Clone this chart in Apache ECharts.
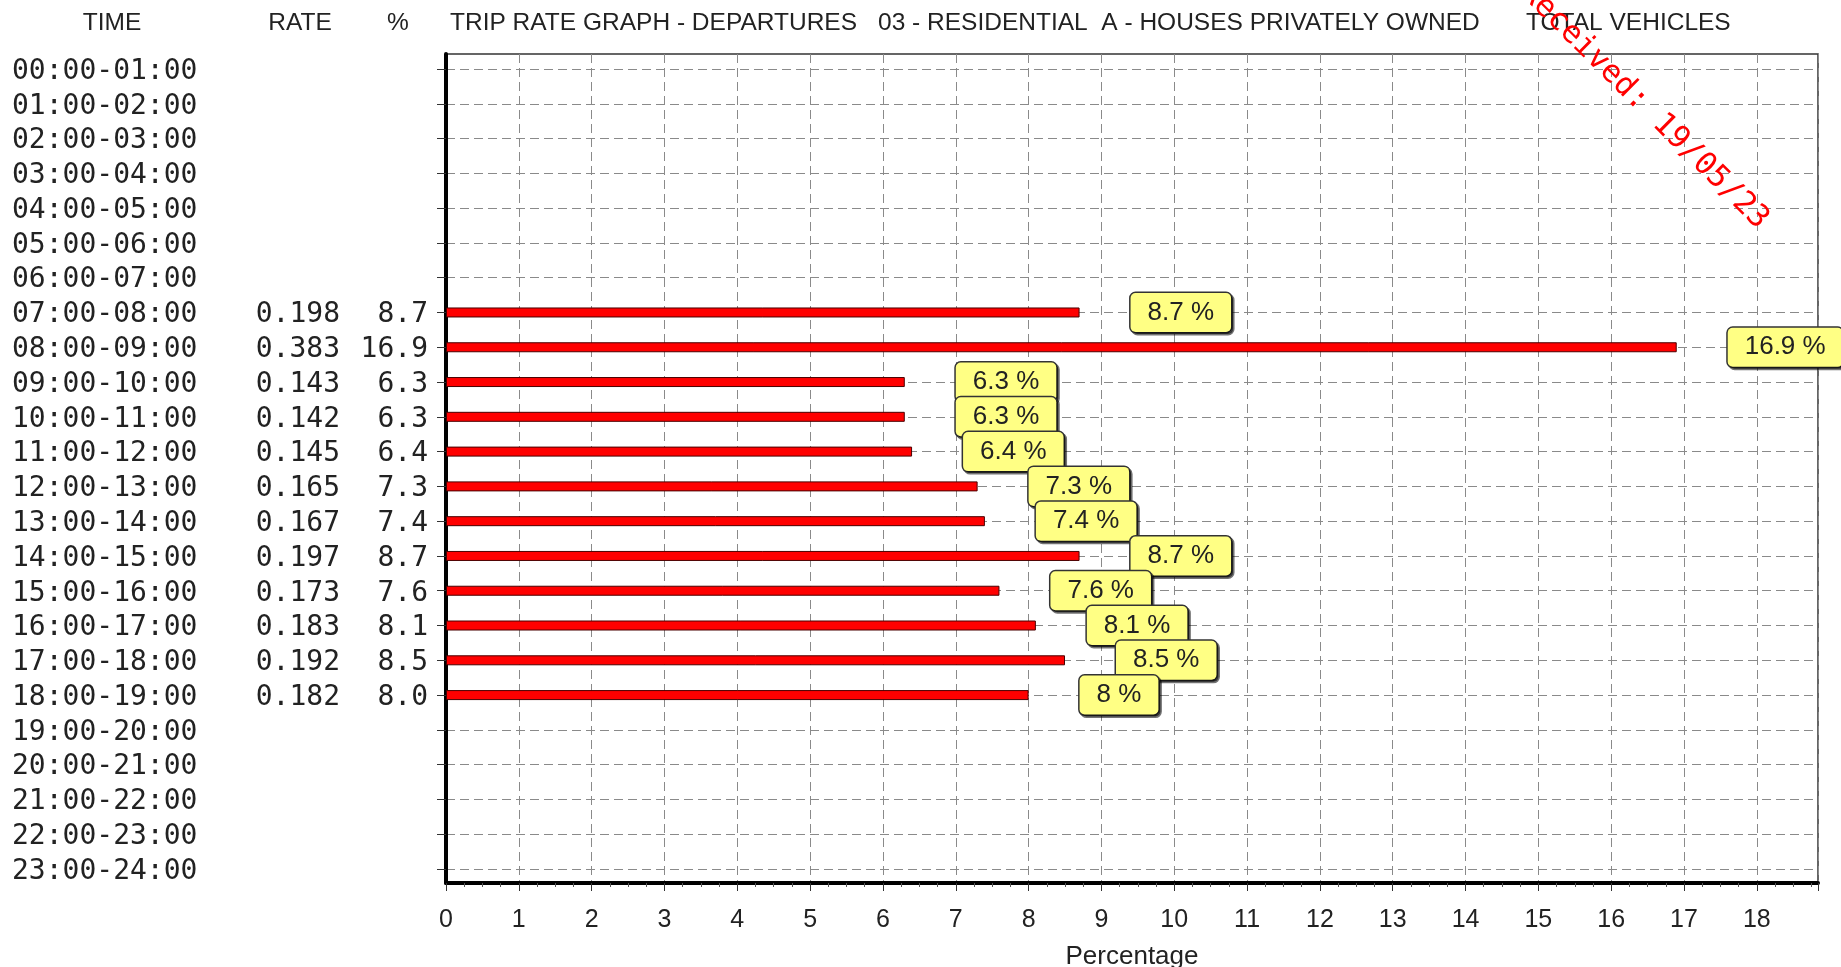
<!DOCTYPE html>
<html><head><meta charset="utf-8">
<script src="https://cdn.jsdelivr.net/npm/echarts@6/dist/echarts.min.js"></script>
<style>html,body{margin:0;padding:0;background:#fff;}#c{width:1841px;height:967px;}</style>
</head><body><div id="c"></div>
<script>
// ---- data ----
const times = ['00:00-01:00','01:00-02:00','02:00-03:00','03:00-04:00','04:00-05:00','05:00-06:00',
  '06:00-07:00','07:00-08:00','08:00-09:00','09:00-10:00','10:00-11:00','11:00-12:00',
  '12:00-13:00','13:00-14:00','14:00-15:00','15:00-16:00','16:00-17:00','17:00-18:00',
  '18:00-19:00','19:00-20:00','20:00-21:00','21:00-22:00','22:00-23:00','23:00-24:00'];
const rates = [null,null,null,null,null,null,null,0.198,0.383,0.143,0.142,0.145,0.165,0.167,0.197,0.173,0.183,0.192,0.182,null,null,null,null,null];
const pcts  = [null,null,null,null,null,null,null,8.7,16.9,6.3,6.3,6.4,7.3,7.4,8.7,7.6,8.1,8.5,8.0,null,null,null,null,null];
const colHeaders = ['TIME','RATE','%'];
const titleParts = ['TRIP RATE GRAPH - DEPARTURES','03 - RESIDENTIAL  A - HOUSES PRIVATELY OWNED','TOTAL VEHICLES'];
const xAxisName = 'Percentage';
const watermark = 'Received: 19/05/23';
const xMin = 0, xMax = 18.84;

// ---- chart ----
const MONO = "'DejaVu Sans Mono', monospace";
const SANS = "'Liberation Sans', Arial, sans-serif";
const chart = echarts.init(document.getElementById('c'), null, {renderer: 'canvas'});
const gridStroke = {color: '#8a8a8a', type: [9, 5], width: 1};
const HF = '24.5px ' + SANS;

chart.setOption({
  backgroundColor: '#ffffff',
  animation: false,
  grid: [
    {left: 446, right: 23, top: 69, height: 800, outerBoundsMode: 'none', containLabel: false},
    {left: 446, right: 23, top: 54, bottom: 84, show: true, borderColor: '#333', borderWidth: 1.5,
     backgroundColor: 'transparent', outerBoundsMode: 'none', containLabel: false}
  ],
  xAxis: [
    {gridIndex: 0, type: 'value', min: xMin, max: xMax, show: false},
    {gridIndex: 1, type: 'value', min: xMin, max: xMax, interval: 1,
     axisLine: {show: true, onZero: false, lineStyle: {color: '#000', width: 4}},
     axisTick: {show: true, length: 8, lineStyle: {color: '#333', width: 1}},
     minorTick: {show: true, splitNumber: 4, length: 4, lineStyle: {color: '#555', width: 1}},
     splitLine: {show: true, lineStyle: gridStroke},
     axisLabel: {margin: 25, fontFamily: SANS, fontSize: 25, color: '#222', showMaxLabel: false,
       formatter: v => (Math.abs(v - Math.round(v)) < 1e-9 ? String(Math.round(v)) : '')},
     name: xAxisName, nameLocation: 'middle', nameGap: 61,
     nameTextStyle: {fontFamily: SANS, fontSize: 26, color: '#222'}}
  ],
  yAxis: [
    {gridIndex: 0, type: 'category', data: times, inverse: true, boundaryGap: false,
     axisLine: {show: false},
     axisTick: {show: true, length: 9, interval: 0, lineStyle: {color: '#333', width: 1}},
     splitLine: {show: true, interval: 0, lineStyle: gridStroke},
     axisLabel: {interval: 0, margin: 18, color: '#222', fontFamily: MONO, fontSize: 28,
       padding: [5, 0, 0, 0],
       formatter: (val, idx) => {
         const r = rates[idx] == null ? ' ' : rates[idx].toFixed(3);
         const p = pcts[idx] == null ? ' ' : pcts[idx].toFixed(1);
         return '{t|' + val + '}{r|' + r + '}{p|' + p + '}';
       },
       rich: {
         t: {width: 190, align: 'left', fontFamily: MONO, fontSize: 28, color: '#222'},
         r: {width: 138, align: 'right', fontFamily: MONO, fontSize: 28, color: '#222'},
         p: {width: 88, align: 'right', fontFamily: MONO, fontSize: 28, color: '#222'}
       }}},
    {gridIndex: 1, type: 'value', min: 0, max: 1,
     axisLine: {show: true, onZero: false, lineStyle: {color: '#000', width: 4}},
     axisTick: {show: false}, axisLabel: {show: false}, splitLine: {show: false}}
  ],
  series: [{
    type: 'bar', xAxisIndex: 0, yAxisIndex: 0, data: pcts, barWidth: 10, z: 5,
    itemStyle: {color: '#ff0000', borderColor: '#4a0000', borderWidth: 1},
    label: {show: true, position: 'right', distance: 51,
      formatter: p => p.value + ' %',
      fontFamily: SANS, fontSize: 26, color: '#222',
      backgroundColor: '#ffff84', borderColor: '#333', borderWidth: 1.5, borderRadius: 5,
      padding: [7, 17, 6, 17],
      shadowColor: 'rgba(0,0,0,0.55)', shadowOffsetX: 2, shadowOffsetY: 2, shadowBlur: 0}
  }],
  graphic: [
    {type: 'text', x: 112, y: 23, style: {text: colHeaders[0], font: HF, fill: '#222', textAlign: 'center', textVerticalAlign: 'middle'}},
    {type: 'text', x: 300, y: 23, style: {text: colHeaders[1], font: HF, fill: '#222', textAlign: 'center', textVerticalAlign: 'middle'}},
    {type: 'text', x: 398, y: 23, style: {text: colHeaders[2], font: HF, fill: '#222', textAlign: 'center', textVerticalAlign: 'middle'}},
    {type: 'text', x: 450, y: 23, style: {text: titleParts[0], font: HF, fill: '#222', textAlign: 'left', textVerticalAlign: 'middle'}},
    {type: 'text', x: 878, y: 23, style: {text: titleParts[1], font: HF, fill: '#222', textAlign: 'left', textVerticalAlign: 'middle'}},
    {type: 'text', x: 1526, y: 23, style: {text: titleParts[2], font: HF, fill: '#222', textAlign: 'left', textVerticalAlign: 'middle'}},
    {type: 'text', x: 1644, y: 106, rotation: -0.78, z: 100,
     style: {text: watermark, font: '31px ' + MONO, fill: '#ff0000', textAlign: 'center', textVerticalAlign: 'middle'}}
  ]
});
</script></body></html>
